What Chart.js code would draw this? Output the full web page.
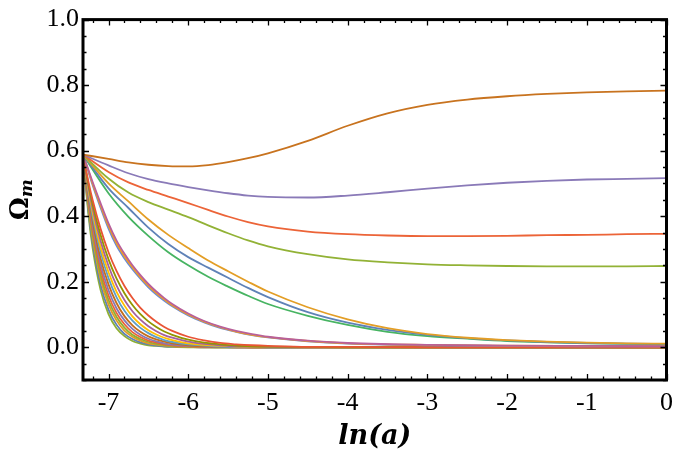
<!DOCTYPE html>
<html>
<head>
<meta charset="utf-8">
<script src="https://cdn.jsdelivr.net/npm/chart.js@4.4.1/dist/chart.umd.min.js"></script>
<style>
  html, body { margin: 0; padding: 0; background: #fff; }
  canvas { display: block; }
</style>
</head>
<body>
<canvas id="omegaChart" width="681" height="458"></canvas>
<script>
// ln(a) grids
const lnA = [-7.32, -7.0, -6.75, -6.5, -6.25, -6.0, -5.75, -5.5, -5.25, -5.0, -4.5, -4.0, -3.5, -3.0, -2.5, -2.0, -1.5, -1.0, -0.5, 0];
const lnAEarly = [-7.32, -7.25, -7.2, -7.1, -7.0, -6.9, -6.8, -6.7, -6.6, -6.5, -6.4, -6.3, -6.2, -6.0, -5.8, -5.6, -5.4, -5.2, -5.0, -4.5, -4.0, -3.0, -2.0, -1.0, 0];

// slow curves (on lnA)
const omegaTop = [0.588, 0.575, 0.564, 0.557, 0.553, 0.552, 0.556, 0.565, 0.577, 0.592, 0.630, 0.676, 0.714, 0.740, 0.756, 0.766, 0.773, 0.778, 0.781, 0.783];
const omegaPurple = [0.588, 0.555, 0.531, 0.513, 0.500, 0.489, 0.479, 0.470, 0.463, 0.459, 0.457, 0.463, 0.473, 0.484, 0.494, 0.502, 0.508, 0.512, 0.514, 0.516];
const omegaRed = [0.588, 0.535, 0.503, 0.480, 0.460, 0.440, 0.419, 0.399, 0.382, 0.369, 0.353, 0.345, 0.341, 0.339, 0.339, 0.340, 0.342, 0.343, 0.345, 0.346];
const omegaGreen = [0.588, 0.515, 0.472, 0.443, 0.420, 0.397, 0.372, 0.348, 0.326, 0.308, 0.284, 0.268, 0.259, 0.253, 0.250, 0.248, 0.247, 0.247, 0.247, 0.248];
const omegaOrangeA = [0.588, 0.50, 0.445, 0.39, 0.343, 0.303, 0.265, 0.232, 0.200, 0.170, 0.122, 0.085, 0.058, 0.040, 0.029, 0.022, 0.017, 0.014, 0.012, 0.011];
const omegaBlueA = [0.588, 0.485, 0.425, 0.365, 0.315, 0.275, 0.243, 0.212, 0.181, 0.153, 0.107, 0.075, 0.053, 0.038, 0.028, 0.021, 0.016, 0.013, 0.011, 0.010];
const omegaGreenA = [0.588, 0.470, 0.398, 0.340, 0.290, 0.250, 0.215, 0.185, 0.157, 0.132, 0.096, 0.068, 0.047, 0.034, 0.026, 0.019, 0.015, 0.012, 0.010, 0.009];

// middle bundle (on lnAEarly)
const omegaPinkB = [0.588, 0.54, 0.505, 0.44, 0.378, 0.326, 0.285, 0.25, 0.22, 0.193, 0.17, 0.15, 0.132, 0.103, 0.08, 0.063, 0.05, 0.04, 0.032, 0.02, 0.013, 0.007, 0.005, 0.004, 0.003];
const omegaOrangeB = [0.588, 0.537, 0.500, 0.433, 0.370, 0.318, 0.278, 0.244, 0.214, 0.188, 0.165, 0.146, 0.128, 0.100, 0.078, 0.061, 0.048, 0.038, 0.031, 0.019, 0.012, 0.007, 0.005, 0.004, 0.003];
const omegaBlueB = [0.588, 0.534, 0.495, 0.426, 0.362, 0.310, 0.271, 0.238, 0.209, 0.183, 0.161, 0.142, 0.125, 0.097, 0.076, 0.059, 0.047, 0.037, 0.030, 0.018, 0.011, 0.006, 0.004, 0.003, 0.003];

// fast-decaying bundle (on lnAEarly), fastest first
const fast0 = [0.588, 0.400, 0.304, 0.175, 0.101, 0.058, 0.034, 0.019, 0.011, 0.006, 0.004, 0.002, 0.001, 0, 0, 0, 0, 0, 0, 0, 0, 0, 0, 0, 0];
const fast1 = [0.588, 0.411, 0.319, 0.191, 0.115, 0.069, 0.041, 0.025, 0.015, 0.009, 0.005, 0.003, 0.002, 0.001, 0, 0, 0, 0, 0, 0, 0, 0, 0, 0, 0];
const fast2 = [0.588, 0.423, 0.335, 0.209, 0.131, 0.082, 0.051, 0.032, 0.020, 0.012, 0.008, 0.005, 0.003, 0.001, 0, 0, 0, 0, 0, 0, 0, 0, 0, 0, 0];
const fast3 = [0.588, 0.432, 0.347, 0.223, 0.144, 0.093, 0.060, 0.038, 0.025, 0.016, 0.010, 0.007, 0.004, 0.002, 0.001, 0, 0, 0, 0, 0, 0, 0, 0, 0, 0];
const fast4 = [0.588, 0.441, 0.359, 0.239, 0.158, 0.105, 0.070, 0.046, 0.031, 0.020, 0.014, 0.009, 0.006, 0.003, 0.001, 0.001, 0, 0, 0, 0, 0, 0, 0, 0, 0];
const fast5 = [0.588, 0.451, 0.373, 0.255, 0.174, 0.119, 0.082, 0.056, 0.038, 0.026, 0.018, 0.012, 0.008, 0.004, 0.002, 0.001, 0, 0, 0, 0, 0, 0, 0, 0, 0];
const fast6 = [0.588, 0.460, 0.386, 0.272, 0.192, 0.135, 0.095, 0.067, 0.047, 0.033, 0.024, 0.017, 0.012, 0.006, 0.003, 0.001, 0.001, 0, 0, 0, 0, 0, 0, 0, 0];
const fast7 = [0.588, 0.470, 0.400, 0.291, 0.211, 0.153, 0.111, 0.081, 0.059, 0.043, 0.031, 0.022, 0.016, 0.009, 0.005, 0.002, 0.001, 0.001, 0, 0, 0, 0, 0, 0, 0];
const fast8 = [0.588, 0.478, 0.413, 0.307, 0.229, 0.170, 0.127, 0.094, 0.070, 0.052, 0.039, 0.029, 0.022, 0.012, 0.007, 0.004, 0.002, 0.001, 0.001, 0, 0, 0, 0, 0, 0];
const fast9 = [0.588, 0.487, 0.425, 0.325, 0.248, 0.189, 0.144, 0.110, 0.084, 0.064, 0.049, 0.037, 0.029, 0.017, 0.010, 0.006, 0.003, 0.002, 0.001, 0, 0, 0, 0, 0, 0];
const fast10 = [0.588, 0.495, 0.438, 0.343, 0.268, 0.210, 0.165, 0.129, 0.101, 0.079, 0.062, 0.048, 0.038, 0.023, 0.014, 0.009, 0.005, 0.003, 0.002, 0.001, 0, 0, 0, 0, 0];
const fast11 = [0.588, 0.503, 0.450, 0.362, 0.290, 0.233, 0.187, 0.150, 0.120, 0.097, 0.078, 0.062, 0.050, 0.032, 0.021, 0.013, 0.009, 0.006, 0.004, 0.001, 0.001, 0, 0, 0, 0];

const xTicks = [-7, -6, -5, -4, -3, -2, -1, 0];
const yTicks = [0, 0.2, 0.4, 0.6, 0.8, 1.0];

function curve(xs, ys, color) {
    return {
        data: xs.map((x, i) => ({ x: x, y: ys[i] })),
        borderColor: color,
        borderWidth: 1.8,
        pointRadius: 0,
        fill: false,
        cubicInterpolationMode: 'monotone'
    };
}

const datasets = [
    curve(lnA, omegaTop, '#c8731f'),
    curve(lnA, omegaPurple, '#8a7ab8'),
    curve(lnA, omegaRed, '#ec6438'),
    curve(lnA, omegaGreen, '#92b236'),
    curve(lnA, omegaOrangeA, '#e39e26'),
    curve(lnA, omegaBlueA, '#5f82b7'),
    curve(lnA, omegaGreenA, '#47b462'),
    curve(lnAEarly, omegaPinkB, '#b8609a'),
    curve(lnAEarly, omegaOrangeB, '#f29f1c'),
    curve(lnAEarly, omegaBlueB, '#6a88d4'),
    curve(lnAEarly, fast11, '#e95536'),
    curve(lnAEarly, fast10, '#929600'),
    curve(lnAEarly, fast9, '#a5609d'),
    curve(lnAEarly, fast8, '#ffbf00'),
    curve(lnAEarly, fast7, '#5d9ec7'),
    curve(lnAEarly, fast6, '#c56e1a'),
    curve(lnAEarly, fast5, '#8778b3'),
    curve(lnAEarly, fast4, '#eb6235'),
    curve(lnAEarly, fast3, '#8fb032'),
    curve(lnAEarly, fast2, '#e19c24'),
    curve(lnAEarly, fast1, '#5e81b5'),
    curve(lnAEarly, fast0, '#8fb032')
];

// frame, inward ticks on all sides, axis titles
const framePlugin = {
    id: 'frame',
    afterDraw(chart) {
        const { ctx, chartArea: a, scales: { x, y } } = chart;
        ctx.save();
        ctx.strokeStyle = '#000';
        ctx.lineWidth = 1.3;
        ctx.beginPath();
        for (let i = -2; i <= 20; i++) {
            const v = i * 0.05;
            const py = Math.round(y.getPixelForValue(v)) + 0.5;
            const len = (i % 4 === 0) ? 6 : 3.5;
            ctx.moveTo(a.left, py); ctx.lineTo(a.left + len, py);
            ctx.moveTo(a.right, py); ctx.lineTo(a.right - len, py);
        }
        for (let i = -36; i <= 0; i++) {
            const v = i * 0.2;
            const px = Math.round(x.getPixelForValue(v)) + 0.5;
            const len = (i % 5 === 0) ? 6 : 3.5;
            ctx.moveTo(px, a.bottom); ctx.lineTo(px, a.bottom - len);
            ctx.moveTo(px, a.top); ctx.lineTo(px, a.top + len);
        }
        ctx.stroke();
        ctx.lineWidth = 3;
        ctx.strokeRect(a.left, a.top, a.right - a.left, a.bottom - a.top);

        ctx.fillStyle = '#000';
        ctx.textAlign = 'center';
        ctx.textBaseline = 'middle';
        ctx.font = 'italic bold 27px "DejaVu Serif"';
        ctx.fillText('ln(a)', (a.left + a.right) / 2, 437);

        ctx.translate(21, (a.top + a.bottom) / 2);
        ctx.rotate(-Math.PI / 2);
        ctx.font = 'bold 26px "DejaVu Serif"';
        const wO = ctx.measureText('Ω').width;
        ctx.font = 'italic bold 17px "DejaVu Serif"';
        const wM = ctx.measureText('m').width;
        const start = -(wO + wM) / 2;
        ctx.textAlign = 'left';
        ctx.font = 'bold 26px "DejaVu Serif"';
        ctx.fillText('Ω', start, 0);
        ctx.font = 'italic bold 17px "DejaVu Serif"';
        ctx.fillText('m', start + wO, 7);
        ctx.restore();
    }
};

new Chart(document.getElementById('omegaChart').getContext('2d'), {
    type: 'line',
    data: { datasets: datasets },
    options: {
        responsive: false,
        animation: false,
        devicePixelRatio: 1,
        layout: { padding: { left: 0, right: 11, top: 15, bottom: 0 } },
        plugins: { legend: { display: false }, tooltip: { enabled: false } },
        scales: {
            x: {
                type: 'linear',
                min: -7.32,
                max: 0,
                grid: { display: false, drawTicks: false },
                border: { display: false },
                afterBuildTicks: scale => { scale.ticks = xTicks.map(v => ({ value: v })); },
                afterFit: scale => { scale.height = 78; },
                ticks: {
                    padding: 8,
                    color: '#000',
                    font: { family: 'Liberation Serif', size: 26 },
                    callback: v => String(v)
                }
            },
            y: {
                type: 'linear',
                min: -0.1,
                max: 1.0,
                grid: { display: false, drawTicks: false },
                border: { display: false },
                afterBuildTicks: scale => { scale.ticks = yTicks.map(v => ({ value: v })); },
                afterFit: scale => { scale.width = 83; },
                ticks: {
                    padding: 4,
                    color: '#000',
                    font: { family: 'Liberation Serif', size: 26 },
                    callback: v => v.toFixed(1)
                }
            }
        }
    },
    plugins: [framePlugin]
});
</script>
</body>
</html>
